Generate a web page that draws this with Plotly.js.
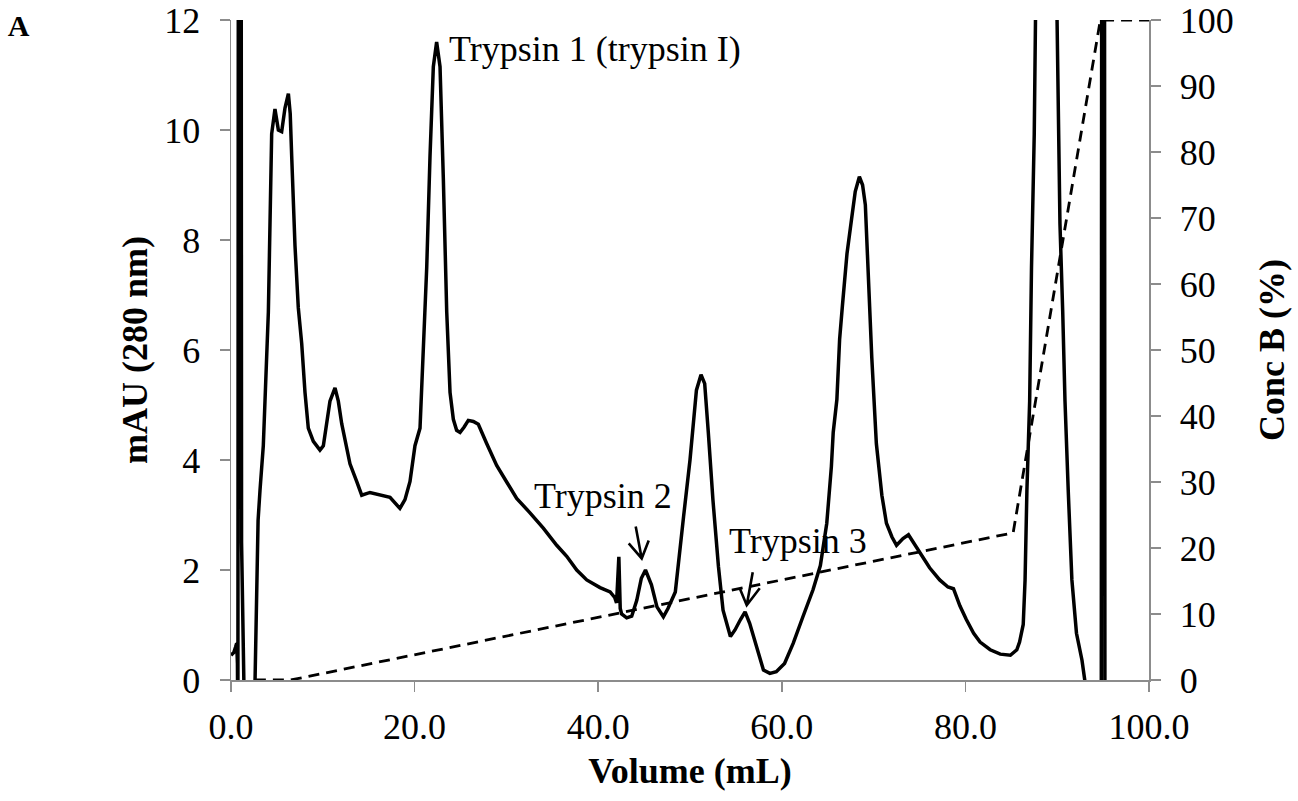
<!DOCTYPE html>
<html><head><meta charset="utf-8">
<script src="https://cdn.plot.ly/plotly-3.0.1.min.js"></script>
<style>html,body{margin:0;padding:0;background:#fff}#chart{width:1298px;height:801px}</style>
</head><body><div id="chart"></div>
<script>
// UV absorbance trace (mAU at 280 nm) vs elution volume (mL)
const volume = [0.0,0.3,0.5,0.62,0.7,0.75,0.95,1.15,1.5,2.5,2.62,2.95,3.16,3.52,4.07,4.43,4.79,5.0,5.16,5.52,5.88,6.25,6.45,6.61,6.97,7.33,7.7,8.06,8.42,8.97,9.69,10.06,10.42,10.78,11.33,11.69,12.06,12.6,12.96,13.69,14.24,15.14,16.23,17.32,18.4,18.95,19.5,20.04,20.59,20.95,21.32,21.68,22.04,22.4,22.77,23.13,23.5,23.86,24.22,24.58,24.95,25.4,25.85,26.4,26.94,27.85,28.94,30.03,31.12,32.57,34.02,35.48,36.57,37.66,38.75,40.2,41.3,41.8,42.0,42.25,42.4,42.55,43.1,43.65,44.2,44.7,45.15,45.8,46.4,47.1,47.6,48.4,48.9,49.3,50.0,50.4,50.7,51.2,51.6,52.0,52.5,53.1,53.6,54.4,54.9,55.5,56.0,56.5,57.3,58.0,58.7,59.4,60.3,61.25,62.3,63.4,64.2,64.9,65.4,65.6,66.0,66.3,66.6,67.1,67.6,68.0,68.45,68.8,69.1,69.4,69.8,70.3,70.9,71.4,72.0,72.5,73.2,73.8,74.3,75.1,76.1,77.2,78.1,78.7,79.4,80.1,80.9,81.6,82.7,83.8,84.9,85.6,85.9,86.3,86.5,86.7,87.0,87.2,87.5,87.7,88.8,89.9,90.1,90.3,90.6,90.85,91.2,91.6,92.1,92.7,93.0,93.2,94.8,95.0,95.2,95.4];
const mAU = [0.45,0.5,0.6,0.67,0.3,-1,60,2.5,-1,-1,0,2.9,3.45,4.26,6.69,9.93,10.38,10.1,10.0,9.97,10.4,10.66,10.3,9.53,7.9,6.77,6.12,5.23,4.58,4.34,4.18,4.26,4.66,5.07,5.31,5.07,4.66,4.26,3.93,3.61,3.36,3.41,3.36,3.32,3.12,3.28,3.61,4.26,4.58,5.88,7.5,9.53,11.15,11.6,11.15,9.12,6.69,5.23,4.74,4.54,4.5,4.6,4.72,4.7,4.65,4.3,3.9,3.6,3.3,3.04,2.76,2.45,2.25,2.0,1.82,1.68,1.6,1.5,1.4,2.24,1.3,1.2,1.13,1.16,1.45,1.85,2.0,1.73,1.33,1.15,1.3,1.6,2.3,2.97,4.0,4.67,5.27,5.55,5.39,4.49,3.27,2.06,1.27,0.79,0.91,1.1,1.24,1.03,0.58,0.18,0.12,0.15,0.3,0.67,1.15,1.64,2.08,2.85,3.88,4.5,5.1,6.2,6.8,7.75,8.38,8.88,9.15,9.0,8.64,7.44,5.87,4.3,3.36,2.85,2.6,2.45,2.57,2.64,2.51,2.32,2.04,1.82,1.69,1.66,1.35,1.1,0.85,0.69,0.55,0.47,0.45,0.55,0.69,1.01,1.82,3.45,5.07,7.5,9.93,13,40,13,9.93,8.3,6.7,5.07,3.45,1.82,0.85,0.36,0,-1,-1,60,-1,-1];
// Gradient (Conc B, %) vs volume
const gradVolume = [2.6, 6.5, 85.2, 94.7, 100];
const concB = [0, 0, 22.3, 100, 100];
// Axis ticks
const xTicks = [0, 20, 40, 60, 80, 100];
const yTicks = [0, 2, 4, 6, 8, 10, 12];
const y2Ticks = [0, 10, 20, 30, 40, 50, 60, 70, 80, 90, 100];
// Peak labels and the peaks their arrows point at (volume, mAU)
const peakLabels = ['Trypsin 1 (trypsin I)', 'Trypsin 2', 'Trypsin 3'];
const arrowVolume = [44.74, 56.18];
const arrowMAU = [2.21, 1.36];

const serif = 'Liberation Serif';
const axisCol = '#8c8c8c';
const tickFont = {family: serif, size: 36, color: '#000'};
const titleFont = {family: serif, size: 36, color: '#000'};

const traces = [
  {x: volume, y: mAU, type: 'scatter', mode: 'lines', line: {color: '#000', width: 3.5}, xaxis: 'x', yaxis: 'y', hoverinfo: 'skip'},
  {x: gradVolume, y: concB, type: 'scatter', mode: 'lines', line: {color: '#000', width: 2.8, dash: '11px,7px'}, xaxis: 'x', yaxis: 'y2', hoverinfo: 'skip'}
];

const axBase = {showline: true, linecolor: axisCol, linewidth: 1.5, ticks: 'outside', ticklen: 10, tickwidth: 1.5, tickcolor: axisCol,
  showgrid: false, zeroline: false, layer: 'below traces', tickfont: tickFont, automargin: false, fixedrange: true};

// arrow glyphs (pixel offsets relative to the arrow tip, y up)
const arrowPaths = ['M -6,32 L 0,0 M -13,15 L 0,0 L 7,18', 'M 6,33 L 0,0 M -7,17 L 0,0 L 13,17'];
const shapes = arrowVolume.map((v, i) => ({
  type: 'path', xref: 'x', yref: 'y', xsizemode: 'pixel', ysizemode: 'pixel',
  xanchor: v, yanchor: arrowMAU[i], path: arrowPaths[i],
  line: {color: '#000', width: 2.6}, layer: 'above'
}));

const layout = {
  width: 1298, height: 801,
  margin: {l: 231, r: 149, t: 20, b: 121, pad: 0},
  paper_bgcolor: '#fff', plot_bgcolor: '#fff',
  showlegend: false,
  title: {text: '<b>A</b>', font: {family: serif, size: 30, color: '#000'}, x: 0.006, xanchor: 'left', xref: 'container', y: 0.968, yanchor: 'middle', yref: 'container'},
  xaxis: Object.assign({}, axBase, {range: [0, 100], tickvals: xTicks, tickformat: '.1f', ticklabelstandoff: 4,
    title: {text: '<b>Volume (mL)</b>', font: titleFont, standoff: 12}}),
  yaxis: Object.assign({}, axBase, {range: [0, 12], tickvals: yTicks, ticklabelstandoff: 12,
    title: {text: '<b>mAU (280 nm)</b>', font: titleFont, standoff: 5}}),
  yaxis2: Object.assign({}, axBase, {range: [0, 100], tickvals: y2Ticks, overlaying: 'y', side: 'right', anchor: 'x', ticklabelstandoff: 12,
    title: {text: '<b>Conc B (%)</b>', font: titleFont, standoff: 26}}),
  shapes: shapes,
  annotations: [
    {x: 23.5, y: 11.47, xref: 'x', yref: 'y', text: peakLabels[0], showarrow: false, xanchor: 'left', yanchor: 'middle', font: {family: serif, size: 36, color: '#000'}},
    {x: 40.55, y: 3.35, xref: 'x', yref: 'y', text: peakLabels[1], showarrow: false, xanchor: 'center', yanchor: 'middle', font: {family: serif, size: 36, color: '#000'}},
    {x: 61.8, y: 2.53, xref: 'x', yref: 'y', text: peakLabels[2], showarrow: false, xanchor: 'center', yanchor: 'middle', font: {family: serif, size: 36, color: '#000'}}
  ]
};

Plotly.newPlot('chart', traces, layout, {displayModeBar: false, staticPlot: true});
</script>
</body></html>
